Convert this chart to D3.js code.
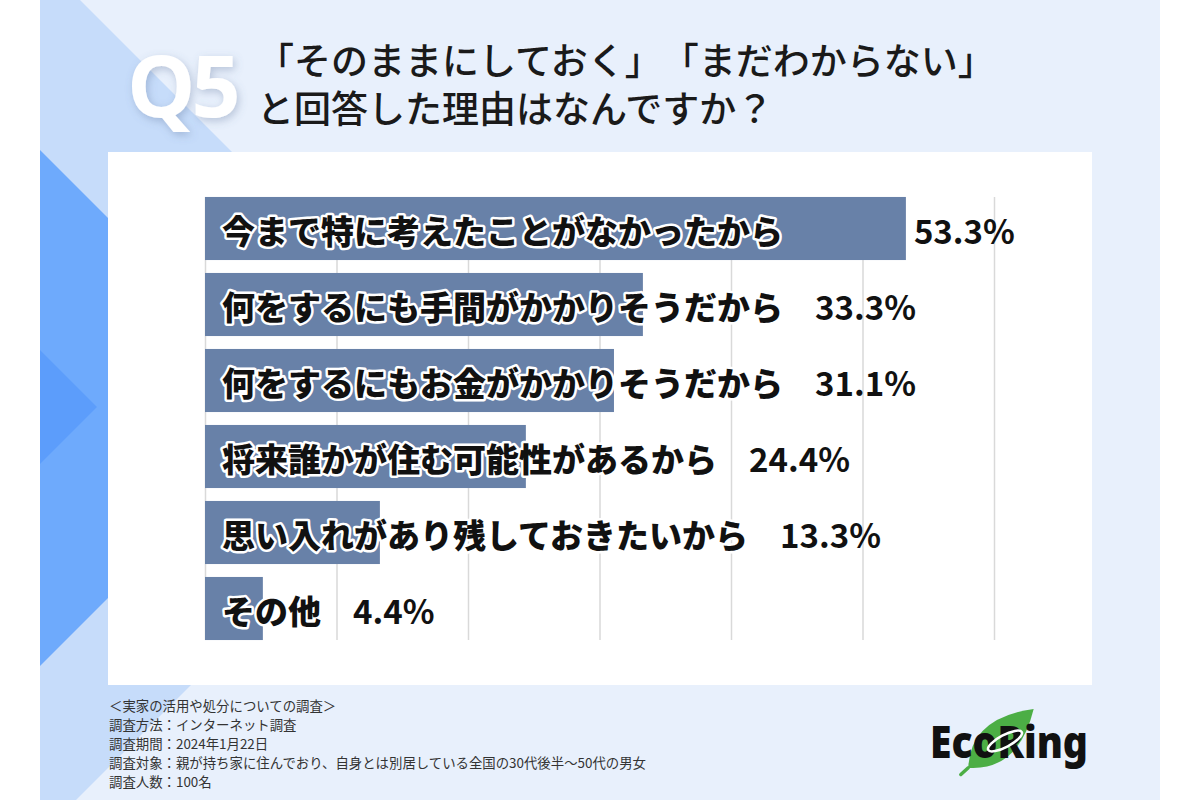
<!DOCTYPE html>
<html>
<head>
<meta charset="utf-8">
<script src="https://cdn.jsdelivr.net/npm/d3@7"></script>
<style>
  html, body { margin: 0; padding: 0; background: #ffffff; }
  svg { display: block; }
  text { text-spacing-trim: space-all; }
</style>
</head>
<body>
<svg id="chart" width="1200" height="800"></svg>
<script>
// ---- data ----
const categories = [
  "今まで特に考えたことがなかったから",
  "何をするにも手間がかかりそうだから",
  "何をするにもお金がかかりそうだから",
  "将来誰かが住む可能性があるから",
  "思い入れがあり残しておきたいから",
  "その他"
];
const values = [53.3, 33.3, 31.1, 24.4, 13.3, 4.4];
const gridTicks = [0, 10, 20, 30, 40, 50, 60];
const titleLines = ["「そのままにしておく」「まだわからない」", "と回答した理由はなんですか？"];
const questionLabel = "Q5";
const footnotes = [
  "＜実家の活用や処分についての調査＞",
  "調査方法：インターネット調査",
  "調査期間：2024年1月22日",
  "調査対象：親が持ち家に住んでおり、自身とは別居している全国の30代後半～50代の男女",
  "調査人数：100名"
];
const brand = "EcoRing";

// ---- drawing ----
const svg = d3.select("#chart");
const JP = "'Noto Sans CJK JP', 'Noto Sans', sans-serif";

const defs = svg.append("defs");
defs.append("clipPath").attr("id", "panelClip")
  .append("rect").attr("x", 40).attr("y", 0).attr("width", 1120).attr("height", 800);
const sh = defs.append("filter").attr("id", "qshadow")
  .attr("x", "-30%").attr("y", "-30%").attr("width", "160%").attr("height", "160%");
sh.append("feDropShadow").attr("dx", 2).attr("dy", 3).attr("stdDeviation", 4)
  .attr("flood-color", "#5a6f96").attr("flood-opacity", 0.35);

// background panel
svg.append("rect").attr("x", 40).attr("y", 0).attr("width", 1120).attr("height", 800).attr("fill", "#e8f0fc");
const deco = svg.append("g").attr("clip-path", "url(#panelClip)");
deco.append("polygon").attr("points", "40,-40 478,398 40,836").attr("fill", "#c6dcfa");
deco.append("polygon").attr("points", "40,150 298,408 40,666").attr("fill", "#6eaafc");
deco.append("polygon").attr("points", "40,350 97,407 40,464").attr("fill", "#5c9dfb");

// white card
svg.append("rect").attr("x", 108).attr("y", 152).attr("width", 984).attr("height", 533).attr("fill", "#ffffff");

// Q label
svg.append("text")
  .attr("x", 127).attr("y", 117)
  .attr("font-family", "'Open Sans', 'Noto Sans', sans-serif")
  .attr("font-weight", 700)
  .attr("font-size", 86)
  .attr("letter-spacing", -4)
  .attr("fill", "#ffffff")
  .attr("filter", "url(#qshadow)")
  .text(questionLabel);

// title (one text block, two lines)
const title = svg.append("text")
  .attr("font-family", JP)
  .attr("font-weight", 500)
  .attr("font-size", 37)
  .attr("fill", "#1a1a1a");
title.selectAll("tspan").data(titleLines).join("tspan")
  .attr("x", 257)
  .attr("y", (d, i) => 75 + i * 48)
  .text(d => d);

// scales
const x = d3.scaleLinear().domain([0, 60]).range([205, 994]);
const y = d3.scaleBand().domain(categories).range([190.5, 646.5]).paddingInner(0.17).paddingOuter(0.085);

// gridlines via axis
const grid = svg.append("g")
  .attr("transform", `translate(0,${y(categories[0])})`)
  .call(d3.axisBottom(x).tickValues(gridTicks)
    .tickSize(y(categories[categories.length - 1]) + y.bandwidth() - y(categories[0]))
    .tickFormat(""));
grid.select(".domain").remove();
grid.selectAll(".tick line").attr("stroke", "#d9d9d9").attr("stroke-width", 1.5);

// bars
const rows = categories.map((c, i) => ({ cat: c, val: values[i] }));
svg.append("g").selectAll("rect").data(rows).join("rect")
  .attr("x", x(0))
  .attr("y", d => y(d.cat))
  .attr("width", d => x(d.val) - x(0))
  .attr("height", y.bandwidth())
  .attr("fill", "#6881a8");

// labels
const labelX = x(0) + 17;
const labels = svg.append("g").selectAll("text").data(rows).join("text")
  .attr("x", labelX)
  .attr("y", d => y(d.cat) + y.bandwidth() / 2 + 1)
  .attr("dominant-baseline", "central")
  .attr("font-family", JP)
  .attr("font-weight", 900)
  .attr("font-size", 33)
  .attr("fill", "#111111")
  .attr("stroke", "#ffffff")
  .attr("stroke-width", 5)
  .attr("stroke-linejoin", "round")
  .attr("paint-order", "stroke")
  .text(d => d.cat);

const widths = [];
labels.each(function () { widths.push(this.getComputedTextLength()); });

svg.append("g").selectAll("text").data(rows).join("text")
  .attr("x", (d, i) => Math.max(labelX + widths[i] + 32, x(d.val) + 8))
  .attr("y", d => y(d.cat) + y.bandwidth() / 2 + 1)
  .attr("dominant-baseline", "central")
  .attr("font-family", JP)
  .attr("font-weight", 700)
  .attr("font-size", 33)
  .attr("fill", "#111111")
  .text(d => d.val.toFixed(1) + "%");

// footnotes
svg.append("g").selectAll("text").data(footnotes).join("text")
  .attr("x", 109)
  .attr("y", (d, i) => 705 + i * 19)
  .attr("dominant-baseline", "central")
  .attr("font-family", JP)
  .attr("font-size", 13.4)
  .attr("fill", "#333333")
  .text(d => d);

// logo
const logo = svg.append("g");
const leaf = logo.append("g").attr("transform", "translate(998,741) rotate(-42)");
leaf.append("path").attr("d", "M -40,0 Q -5,-36 48,0 Q -5,36 -40,0 Z").attr("fill", "#4cae45");
leaf.append("path").attr("d", "M -40,0 L -50,0").attr("stroke", "#4cae45").attr("stroke-width", 3.5).attr("stroke-linecap", "round");
logo.append("text")
  .attr("x", 930).attr("y", 758)
  .attr("font-family", "'Noto Sans', 'DejaVu Sans', sans-serif")
  .attr("font-weight", 900)
  .attr("font-size", 44)
  .attr("textLength", 158)
  .attr("lengthAdjust", "spacingAndGlyphs")
  .attr("fill", "#111111")
  .text(brand);
logo.append("ellipse")
  .attr("cx", 1005).attr("cy", 741).attr("rx", 19).attr("ry", 6)
  .attr("transform", "rotate(-28,1005,741)")
  .attr("fill", "none").attr("stroke", "#ffffff").attr("stroke-width", 2.5);
</script>
</body>
</html>
